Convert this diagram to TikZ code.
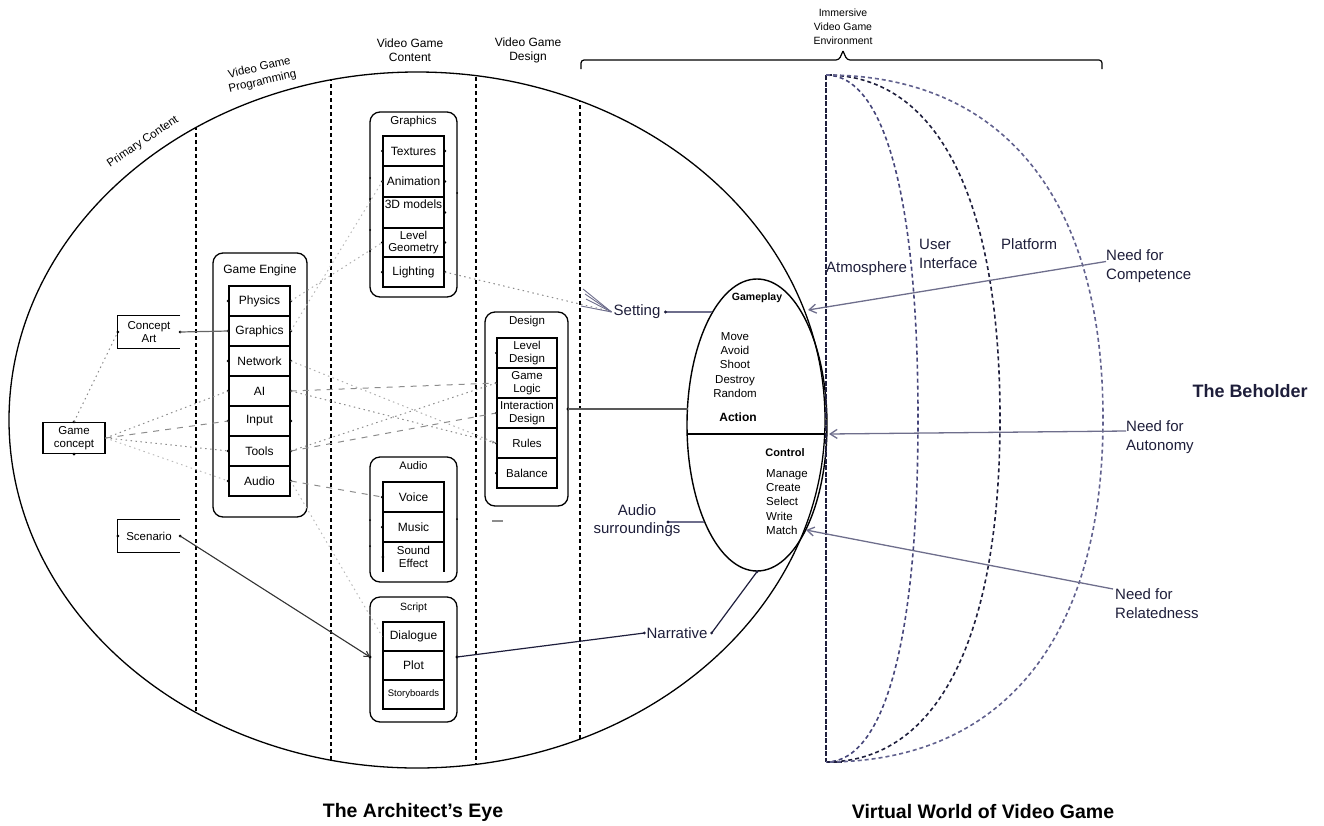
\documentclass[tikz,border=0pt]{standalone}
\usepackage{fontspec}
\setmainfont{Liberation Sans}
\usetikzlibrary{arrows.meta,shapes.geometric}
\definecolor{navy}{HTML}{45457A}
\definecolor{navyd}{HTML}{1E1E3C}
\definecolor{gline}{HTML}{6E6E8C}
\definecolor{dotg}{HTML}{8C8C8C}
\definecolor{txtn}{HTML}{1E1E3A}
\newcommand{\fz}[2]{\fontsize{#1}{#2}\selectfont}
\begin{document}
\begin{tikzpicture}[x=1pt,y=-1pt,
  rowbox/.style={draw, line width=1.5pt, minimum width=61pt, minimum height=30pt, inner sep=0pt, align=center, font=\fz{12}{13}},
  rbox/.style={draw, line width=1.3pt, rounded corners=10pt, inner sep=0pt},
  lbl/.style={inner sep=0pt, align=center},
  dotc/.style={dotg, line width=1pt, dash pattern=on 1.5pt off 3.5pt},
  dashc/.style={dotg, line width=1pt, dash pattern=on 6pt off 6pt},
  coldash/.style={black, line width=1.1pt, dash pattern=on 4pt off 3pt},
  arcst/.style={line width=1.6pt, dash pattern=on 4pt off 3pt},
  need/.style={gline, line width=1.3pt, -{Straight Barb[length=7pt,width=9pt]}},
  link/.style={gline, line width=1.2pt},
]
\useasboundingbox (0,0) rectangle (1324,825);

% ---------- Architect's Eye ----------
\draw[line width=1.3pt] (417,420) ellipse [x radius=408pt, y radius=348pt];
\begin{scope}
  \clip (417,420) ellipse [x radius=408pt, y radius=348pt];
  \foreach \xx in {196,331,476,580} \draw[coldash] (\xx,0) -- (\xx,825);
\end{scope}

% column headers
\node[lbl, rotate=34, font=\fz{11.5}{13}] (hpc) at (143,142) {Primary Content};
\node[lbl, rotate=13, font=\fz{11.5}{14}] (hvp) at (261,75) {Video Game\\Programming};
\node[lbl, font=\fz{12}{14}] (hvc) at (410,50) {Video Game\\Content};
\node[lbl, font=\fz{12}{14}] (hvd) at (528,50) {Video Game\\Design};
\node[lbl, font=\fz{10.5}{14}] (hiv) at (843,27) {Immersive\\Video Game\\Environment};

% brace
\draw[line width=1.2pt, rounded corners=3pt] (581,69) -- (581,60) -- (839,60) -- (843,51);
\draw[line width=1.2pt, rounded corners=3pt] (1102,69) -- (1102,60) -- (847,60) -- (843,51);

% primary content boxes
\node[lbl, minimum width=62pt, minimum height=32pt, font=\fz{11.5}{13}] (ca) at (149,332) {Concept\\Art};
\draw[line width=1.3pt] (ca.north east) -- (ca.north west) -- (ca.south west) -- (ca.south east);
\node[draw, line width=1.3pt, minimum width=62pt, minimum height=31pt, inner sep=0pt, align=center, font=\fz{11.5}{13}] (gc) at (74,438) {Game\\concept};
\node[lbl, minimum width=62pt, minimum height=32pt, font=\fz{11.5}{13}] (sc) at (149,536) {Scenario};
\draw[line width=1.3pt] (sc.north east) -- (sc.north west) -- (sc.south west) -- (sc.south east);

% game engine
\node[rbox, minimum width=94pt, minimum height=264pt] (ge) at (260,385) {};
\node[lbl, font=\fz{12}{13}] (get) at (260,270) {Game Engine};
\foreach \n/\t [count=\i from 0] in {eph/Physics, egr/Graphics, enw/Network, eai/AI, ein/Input, eto/Tools, eau/Audio}
  \node[rowbox] (\n) at (259.5,{301+30*\i}) {\t};

% graphics content
\node[rbox, minimum width=87pt, minimum height=185pt] (gfx) at (413.5,204.5) {};
\node[lbl, font=\fz{11.5}{13}] (gfxt) at (413.5,122) {Graphics};
\node[rowbox] (ctx) at (413.5,151) {Textures};
\node[rowbox, minimum height=31pt] (can) at (413.5,181.5) {Animation};
\node[rowbox, minimum height=31pt] (c3d) at (413.5,212.5) {};
\node[lbl, font=\fz{12}{13}] (c3dt) at (413.5,204) {3D models};
\node[rowbox, minimum height=29pt, font=\fz{11.5}{12.5}] (clg) at (413.5,242.5) {Level\\Geometry};
\node[rowbox] (cli) at (413.5,272) {Lighting};

% audio content
\node[rbox, minimum width=87pt, minimum height=125pt] (aud) at (413.5,519.5) {};
\node[lbl, font=\fz{11}{13}] (audt) at (413.5,466) {Audio};
\node[rowbox] (avo) at (413.5,497) {Voice};
\node[rowbox] (amu) at (413.5,527) {Music};
\node[lbl, minimum width=61pt, minimum height=30pt, font=\fz{11.5}{12.5}] (ase) at (413.5,557) {Sound\\Effect};
\draw[line width=1.5pt] (ase.north west) -- (ase.south west);
\draw[line width=1.5pt] (ase.north east) -- (ase.south east);

% script
\node[rbox, minimum width=87pt, minimum height=125pt] (scr) at (413.5,659.5) {};
\node[lbl, font=\fz{10.5}{12}] (scrt) at (413.5,608) {Script};
\node[rowbox, minimum height=29pt] (sdi) at (413.5,636.5) {Dialogue};
\node[rowbox, minimum height=29pt] (spl) at (413.5,665.5) {Plot};
\node[rowbox, minimum height=29pt, font=\fz{9.5}{11}] (ssb) at (413.5,694.5) {Storyboards};
\coordinate (scrL) at (370,657);
\coordinate (scrR) at (457,657);

% design
\node[rbox, minimum width=83pt, minimum height=194pt] (des) at (526.5,409) {};
\node[lbl, font=\fz{11.5}{13}] (dest) at (527,322) {Design};
\foreach \n/\t [count=\i from 0] in {dld/{Level\\Design}, dgl/{Game\\Logic}, did/{Interaction\\Design}, dru/Rules, dba/Balance}
  \node[rowbox, minimum width=60pt, font=\fz{11.5}{13}] (\n) at (527,{353+30*\i}) {\t};
\coordinate (desR) at (568,409);

% labels of gameplay side (defined early for connectors)
\node[lbl, font=\fz{15}{17}, text=txtn] (set) at (637,312) {Setting};
\node[lbl, font=\fz{15}{18}, text=txtn] (aus) at (637,521) {Audio\\surroundings};
\node[lbl, font=\fz{15}{17}, text=txtn] (nar) at (677,633) {Narrative};

% dots on rows
\foreach \n in {eph,egr,enw,eai,ein,eto,eau} {\fill (\n.west) circle (1.6pt); \fill (\n.east) circle (1.6pt);}
\foreach \n in {ctx,can,clg,cli} {\fill (\n.west) circle (1.5pt); \fill (\n.east) circle (1.5pt);}
\fill (c3d.east) circle (1.5pt);
\foreach \n in {avo,amu,ase,dld,dgl,did,dru,dba} \fill (\n.west) circle (1.5pt);
\foreach \p in {(370,178),(370,199),(370,230),(370,251),(457,193),(370,520),(370,546),(457,519)} \fill \p circle (1pt);
\fill (scrL) circle (1.6pt); \fill (scrR) circle (1.6pt); \fill (desR) circle (1.6pt);
\fill (ca.east) circle (1.5pt); \fill (ca.west) circle (1.5pt);
\fill (gc.north) circle (1.5pt); \fill (gc.east) circle (1.5pt); \fill (gc.south) circle (1.5pt);
\fill (sc.east) circle (1.5pt); \fill (sc.west) circle (1.5pt);

% connectors (dotted / dashed)
\draw[dotc] (gc.north) -- (ca.west);
\draw[dotc] (gc.east) -- (eai.west);
\draw[dashc] (gc.east) -- (ein.west);
\draw[dotc] (gc.east) -- (eto.west);
\draw[dotc, dotg!60] (gc.east) -- (eau.west);
\draw[line width=1.2pt, black!60] (ca.east) -- (egr.west);
\draw[dashc] (eai.east) -- (dgl.west);
\draw[dotc, -{Latex[length=4pt,width=3pt]}] (eai.east) -- (dru.west);
\draw[dotc, dotg!70] (enw.east) -- (dru.west);
\draw[dotc] (eto.east) -- (dgl.west);
\draw[dashc] (eto.east) -- (did.west);
\draw[dashc] (eau.east) -- (avo.west);
\draw[dotc, dotg!60] (eau.east) -- (sdi.west);
\draw[dotc, dotg!70] (eph.east) -- (clg.west);
\draw[dotc, dotg!60] (egr.east) -- (can.west);
\draw[dotc] (cli.east) -- (set.west);
\draw[dotg, line width=1.2pt] (492,521) -- (503,521);
\draw[line width=1.1pt, black!80, -{Straight Barb[length=5pt,width=6pt]}] (sc.east) -- (scrL);

% ---------- Gameplay ----------
\node[draw, ellipse, line width=1.4pt, minimum width=140pt, minimum height=292pt, inner sep=0pt] (gp) at (757,425) {};
\draw[line width=1.4pt] (687,434) -- (827,434);
\node[lbl, font=\bfseries\fz{10.5}{12}] (gpt) at (757,298) {Gameplay};
\node[lbl, font=\fz{11.5}{14.2}] (gpa) at (735,365) {Move\\Avoid\\Shoot\\Destroy\\Random};
\node[lbl, font=\bfseries\fz{12}{14}] (gpact) at (738,417) {Action};
\node[lbl, font=\bfseries\fz{11}{13}] (gpc) at (785,453) {Control};
\node[lbl, align=left, anchor=west, font=\fz{11.5}{14.2}] (gpm) at (766,502) {Manage\\Create\\Select\\Write\\Match};

\foreach \a/\b in {583/289, 585/294, 586/299, 581/306} \draw[gline, line width=0.9pt] (\a,\b) -- ([xshift=-2pt]set.west);
\coordinate (gpS) at (712,312);
\coordinate (gpA) at (704,522);
\coordinate (gpI) at (688,409);
\draw[link] (gpS) -- ([xshift=5pt]set.east); \fill[navyd] ([xshift=5pt]set.east) circle (1.6pt);
\draw[link] (gpA) -- (668,522); \fill[navyd] (668,522) circle (1.6pt);
\draw[line width=1.2pt, black!65] (desR) -- (gpI);
\draw[link, navyd] ([xshift=-2pt]nar.west) -- (scrR); \fill[navyd] ([xshift=-2pt]nar.west) circle (1.6pt);
\draw[link, navyd] ([xshift=4pt]nar.east) -- (gp.south); \fill[navyd] ([xshift=4pt]nar.east) circle (1.6pt); \fill[navyd] (gp.south) circle (1.6pt);

% ---------- Virtual World ----------
\draw[navyd, line width=1.8pt, dash pattern=on 5pt off 1.5pt] (826,75) -- (826,762);
\draw[navyd, line width=1.6pt] (826,75) -- (832,75);
\draw[navyd, line width=1.6pt] (826,762) -- (842,762);
\draw[arcst, navy] (826,75) .. controls (884.9,75) and (918,198.7) .. (918,418.5) .. controls (918,638.3) and (884.9,762) .. (826,762);
\draw[arcst, navyd] (826,75) .. controls (937.4,75) and (1000,198.7) .. (1000,418.5) .. controls (1000,638.3) and (937.4,762) .. (826,762);
\draw[arcst, navy!85] (826,75) .. controls (1003.3,75) and (1103,198.7) .. (1103,418.5) .. controls (1103,638.3) and (1003.3,762) .. (826,762);

\node[lbl, anchor=west, font=\fz{15}{17}, text=txtn] (atm) at (826,269) {Atmosphere};
\node[lbl, anchor=west, align=left, font=\fz{15}{19}, text=txtn] (ui) at (919,253.5) {User\\Interface};
\node[lbl, anchor=west, font=\fz{15}{17}, text=txtn] (plf) at (1001,244) {Platform};

\node[lbl, anchor=west, align=left, font=\fz{15}{19}, text=txtn] (ncomp) at (1106,266) {Need for\\Competence};
\node[lbl, anchor=west, align=left, font=\fz{15}{19}, text=txtn] (naut) at (1126,437.5) {Need for\\Autonomy};
\node[lbl, anchor=west, align=left, font=\fz{15}{19}, text=txtn] (nrel) at (1115,603.5) {Need for\\Relatedness};
\node[lbl, font=\bfseries\fz{18}{20}, text=txtn] (beh) at (1250,391) {The Beholder};

\coordinate (tcomp) at (808,310);
\coordinate (taut) at (829,434);
\coordinate (trel) at (806,530);
\draw[need] ([yshift=4.5pt]ncomp.west) -- (tcomp);
\draw[need] ([yshift=6.5pt]naut.west) -- (taut);
\draw[need] ([yshift=14.5pt,xshift=-2pt]nrel.west) -- (trel);

% bottom titles
\node[lbl, font=\bfseries\fz{19.5}{22}] (tae) at (413,812) {The Architect's Eye};
\node[lbl, font=\bfseries\fz{19.5}{22}] (tvw) at (983,812) {Virtual World of Video Game};
\end{tikzpicture}
\end{document}
